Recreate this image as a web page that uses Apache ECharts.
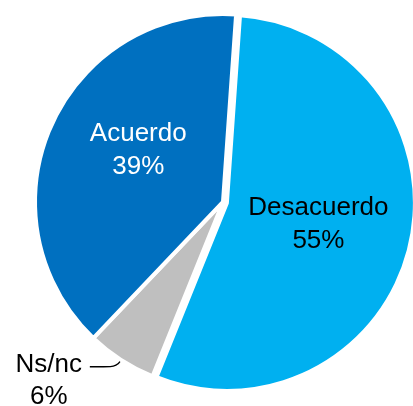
<!DOCTYPE html>
<html>
<head>
<meta charset="utf-8">
<script src="https://cdn.jsdelivr.net/npm/echarts@6/dist/echarts.min.js"></script>
<style>
  html, body { margin: 0; padding: 0; background: #fff; }
  #main { width: 413px; height: 406px; }
</style>
</head>
<body>
<div id="main"></div>
<script>
// chart data, clockwise from 12 o'clock
var categories = ["Desacuerdo", "Ns/nc", "Acuerdo"];
var values = [55, 6, 39];
var colors = ["#00B0F0", "#BFBFBF", "#0070C0"];

var labelFont = "'Liberation Sans', Arial, sans-serif";

var pieData = categories.map(function (name, i) {
  var item = { name: name, value: values[i], itemStyle: { color: colors[i] } };
  if (name === "Ns/nc") {
    item.label = {
      position: "outside",
      formatter: "{n|{b}}\n{n|{c}%}",
      padding: [28, 0, 0, 0],
      rich: {
        n: { width: 72, align: "center", fontSize: 26, lineHeight: 32, color: "#000", fontFamily: labelFont }
      }
    };
    item.labelLine = { show: true, length: 8, length2: 27, smooth: 0.5, lineStyle: { color: "#000", width: 1.3 } };
  } else {
    item.label = {
      position: "inside",
      formatter: "{b}\n{c}%",
      color: name === "Acuerdo" ? "#fff" : "#000"
    };
    item.labelLine = { show: false };
  }
  if (name === "Desacuerdo") item.selected = true;
  return item;
});

// small nudges for the inside labels
var labelShift = { "Acuerdo": [4, -13], "Desacuerdo": [-3, 0] };

var myChart = echarts.init(document.getElementById("main"));
myChart.setOption({
  animation: false,
  series: [
    {
      type: "pie",
      center: [223, 202],
      radius: 188,
      startAngle: 86,
      clockwise: true,
      selectedMode: "single",
      selectedOffset: 4,
      avoidLabelOverlap: false,
      silent: true,
      itemStyle: { borderColor: "#fff", borderWidth: 4 },
      label: {
        fontSize: 26,
        lineHeight: 33,
        fontFamily: labelFont
      },
      labelLayout: function (p) {
        var s = labelShift[categories[p.dataIndex]];
        return s ? { dx: s[0], dy: s[1] } : {};
      },
      select: { itemStyle: { borderColor: "#fff", borderWidth: 4 } },
      data: pieData
    }
  ]
});
</script>
</body>
</html>
